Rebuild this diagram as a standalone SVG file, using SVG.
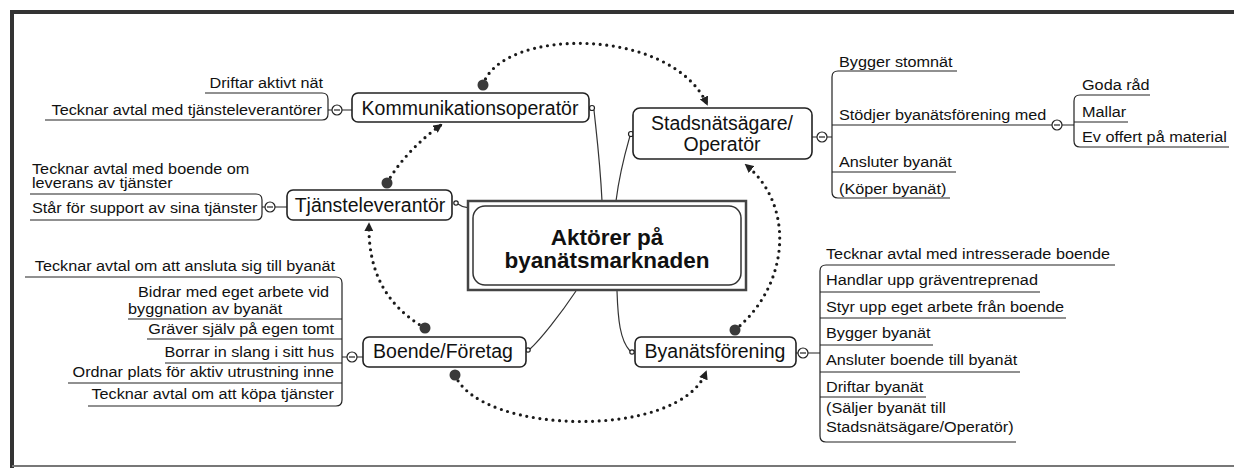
<svg xmlns="http://www.w3.org/2000/svg" width="1234" height="468" viewBox="0 0 1234 468">
<style>
.box{fill:#fff;stroke:#222;stroke-width:1.6}
.nt{font-family:"Liberation Sans",Arial,sans-serif;font-size:19.5px;fill:#111;text-anchor:middle}
.ctr{font-family:"Liberation Sans",Arial,sans-serif;font-size:22.5px;font-weight:bold;fill:#111;text-anchor:middle}
.ct{font-family:"Liberation Sans",Arial,sans-serif;font-size:14.5px;fill:#111}
.e{text-anchor:end}
.ln{stroke:#222;stroke-width:1.2;fill:none}
.dot{stroke:#1a1a1a;stroke-width:3.2;stroke-linecap:round;stroke-dasharray:0 6.6;fill:none}
.cn{stroke:#333;stroke-width:1.2;fill:none}
.col{fill:#fff;stroke:#222;stroke-width:1.2}
.st{fill:#3a3a3a}
</style>
<defs>
<marker id="arr" viewBox="0 0 10 10" refX="8" refY="5" markerWidth="9" markerHeight="9" markerUnits="userSpaceOnUse" orient="auto"><path d="M0,0 L10,5 L0,10 z" fill="#222"/></marker>
<symbol id="minus" viewBox="-6 -6 12 12" overflow="visible"><circle r="5" class="col"/><path d="M-3,0 H3" class="ln"/></symbol>
</defs>

<g id="frame">
<path d="M12,468 L12,12 L1234,12" fill="none" stroke="#333" stroke-width="4"/>
<path d="M12,466 L1234,466" fill="none" stroke="#777" stroke-width="2"/>
</g>

<g id="connectors">
<path class="cn" d="M602,201 C600,160 596,130 594,110"/>
<circle cx="592" cy="108" r="2.5" class="col"/>
<path class="cn" d="M616,201 C620,170 626,150 630,136"/>
<circle cx="631" cy="134" r="2.5" class="col"/>
<path class="cn" d="M474,206 Q466,210 458,204"/>
<circle cx="456" cy="203" r="2.2" class="col"/>
<path class="cn" d="M576,291 C560,315 540,340 530,349"/>
<circle cx="528" cy="350" r="2.2" class="col"/>
<path class="cn" d="M617,291 C618,320 620,340 630,351"/>
<circle cx="632" cy="352" r="2.2" class="col"/>
<path class="dot" d="M483,85 C500,28 670,25 707,104" marker-end="url(#arr)"/>
<path class="dot" d="M387,183 C400,160 420,140 441,125" marker-end="url(#arr)"/>
<path class="dot" d="M425,328 C385,305 368,270 369,224" marker-end="url(#arr)"/>
<path class="dot" d="M455,375 C480,435 680,440 706,372" marker-end="url(#arr)"/>
<path class="dot" d="M735,330 C790,285 795,205 746,165" marker-end="url(#arr)"/>
<circle class="st" cx="483" cy="85" r="5.5"/>
<circle class="st" cx="387" cy="183" r="5.5"/>
<circle class="st" cx="425" cy="328" r="5.5"/>
<circle class="st" cx="455" cy="375" r="5.5"/>
<circle class="st" cx="735" cy="330" r="5.5"/>
</g>

<g id="center">
<rect x="468" y="201" width="278" height="89" fill="#fff" stroke="#444" stroke-width="2.5"/>
<rect x="473" y="206" width="268" height="79" rx="12" fill="#fff" stroke="#333" stroke-width="1.5"/>
<text class="ctr" x="607" y="245">Aktörer på</text>
<text class="ctr" x="607" y="268">byanätsmarknaden</text>
</g>

<g id="kommunikationsoperator">
<rect class="box" x="352" y="93" width="237" height="29" rx="6"/>
<text class="nt" x="470" y="115">Kommunikationsoperatör</text>
<path class="ln" d="M322,93 Q328,93 328,99 L328,114 Q328,120 322,120 M328,110 H332 M342,110 H352"/>
<use href="#minus" x="331" y="104" width="12" height="12"/>
</g>
<g id="k-driftar"><path class="ln" d="M205,93 H322"/><text class="ct e" transform="translate(323,88) scale(1.12,1)">Driftar aktivt nät</text></g>
<g id="k-tecknar"><path class="ln" d="M45,120 H322"/><text class="ct e" transform="translate(322,115) scale(1.12,1)">Tecknar avtal med tjänsteleverantörer</text></g>

<g id="tjansteleverantor">
<rect class="box" x="287" y="190" width="165" height="30" rx="6"/>
<text class="nt" x="370" y="212">Tjänsteleverantör</text>
<path class="ln" d="M256,194 Q262,194 262,200 L262,214 Q262,220 256,220 M262,207 H265 M275,207 H287"/>
<use href="#minus" x="264" y="201" width="12" height="12"/>
</g>
<g id="t-tecknar"><path class="ln" d="M30,194 H256"/><text class="ct" transform="translate(32,174) scale(1.12,1)">Tecknar avtal med boende om</text><text class="ct" transform="translate(32,188) scale(1.12,1)">leverans av tjänster</text></g>
<g id="t-star"><path class="ln" d="M30,220 H256"/><text class="ct" transform="translate(32,213) scale(1.12,1)">Står för support av sina tjänster</text></g>

<g id="stadsnatsagare">
<rect class="box" x="633" y="108" width="179" height="51" rx="7"/>
<text class="nt" x="722" y="130">Stadsnätsägare/</text>
<text class="nt" x="722" y="151">Operatör</text>
<path class="ln" d="M838,71 Q832,71 832,77 L832,192 Q832,198 838,198 M812,137 H817 M827,137 H832"/>
<use href="#minus" x="816" y="131" width="12" height="12"/>
</g>
<g id="s-bygger"><path class="ln" d="M838,71 H957"/><text class="ct" transform="translate(839,67) scale(1.12,1)">Bygger stomnät</text></g>
<g id="s-stodjer"><path class="ln" d="M832,125 H1052 M1062,125 H1074 M1080,95 Q1074,95 1074,101 L1074,141 Q1074,147 1080,147"/><use href="#minus" x="1051" y="119" width="12" height="12"/><text class="ct" transform="translate(839,120) scale(1.12,1)">Stödjer byanätsförening med</text></g>
<g id="s-goda"><path class="ln" d="M1080,95 H1150"/><text class="ct" transform="translate(1082,90) scale(1.12,1)">Goda råd</text></g>
<g id="s-mallar"><path class="ln" d="M1074,122 H1128"/><text class="ct" transform="translate(1082,117) scale(1.12,1)">Mallar</text></g>
<g id="s-offert"><path class="ln" d="M1080,147 H1229"/><text class="ct" transform="translate(1082,142) scale(1.12,1)">Ev offert på material</text></g>
<g id="s-ansluter"><path class="ln" d="M832,172 H956"/><text class="ct" transform="translate(839,167) scale(1.12,1)">Ansluter byanät</text></g>
<g id="s-koper"><path class="ln" d="M838,198 H950"/><text class="ct" transform="translate(839,194) scale(1.12,1)">(Köper byanät)</text></g>

<g id="boende">
<rect class="box" x="363" y="337" width="163" height="30" rx="6"/>
<text class="nt" x="443" y="358">Boende/Företag</text>
<path class="ln" d="M336,277 Q342,277 342,283 L342,400 Q342,406 336,406 M342,357 H347 M357,357 H363"/>
<use href="#minus" x="346" y="351" width="12" height="12"/>
</g>
<g id="b-ansluta"><path class="ln" d="M25,277 H336"/><text class="ct e" transform="translate(335,271) scale(1.12,1)">Tecknar avtal om att ansluta sig till byanät</text></g>
<g id="b-bidrar"><path class="ln" d="M128,319 H342"/><text class="ct" transform="translate(138,297) scale(1.12,1)">Bidrar med eget arbete vid</text><text class="ct" transform="translate(128,314) scale(1.12,1)">byggnation av byanät</text></g>
<g id="b-graver"><path class="ln" d="M147,339 H342"/><text class="ct e" transform="translate(334,334) scale(1.12,1)">Gräver själv på egen tomt</text></g>
<g id="b-borrar"><path class="ln" d="M165,363 H342"/><text class="ct e" transform="translate(334,357) scale(1.12,1)">Borrar in slang i sitt hus</text></g>
<g id="b-ordnar"><path class="ln" d="M68,383 H342"/><text class="ct e" transform="translate(334,377) scale(1.12,1)">Ordnar plats för aktiv utrustning inne</text></g>
<g id="b-kopa"><path class="ln" d="M88,406 H336"/><text class="ct e" transform="translate(334,399) scale(1.12,1)">Tecknar avtal om att köpa tjänster</text></g>

<g id="byanatsforening">
<rect class="box" x="635" y="337" width="161" height="30" rx="6"/>
<text class="nt" x="715" y="358">Byanätsförening</text>
<path class="ln" d="M826,265 Q820,265 820,271 L820,436 Q820,442 826,442 M796,353 H798 M808,353 H820"/>
<use href="#minus" x="797" y="347" width="12" height="12"/>
</g>
<g id="f-tecknar"><path class="ln" d="M826,265 H1115"/><text class="ct" transform="translate(826,259) scale(1.12,1)">Tecknar avtal med intresserade boende</text></g>
<g id="f-handlar"><path class="ln" d="M820,292 H1040"/><text class="ct" transform="translate(826,285) scale(1.12,1)">Handlar upp gräventreprenad</text></g>
<g id="f-styr"><path class="ln" d="M820,318 H1066"/><text class="ct" transform="translate(826,312) scale(1.12,1)">Styr upp eget arbete från boende</text></g>
<g id="f-bygger"><path class="ln" d="M820,345 H933"/><text class="ct" transform="translate(826,338) scale(1.12,1)">Bygger byanät</text></g>
<g id="f-ansluter"><path class="ln" d="M820,372 H1020"/><text class="ct" transform="translate(826,365) scale(1.12,1)">Ansluter boende till byanät</text></g>
<g id="f-driftar"><path class="ln" d="M820,397 H926"/><text class="ct" transform="translate(826,392) scale(1.12,1)">Driftar byanät</text></g>
<g id="f-saljer"><path class="ln" d="M826,442 H1016"/><text class="ct" transform="translate(826,413) scale(1.12,1)">(Säljer byanät till</text><text class="ct" transform="translate(826,432) scale(1.12,1)">Stadsnätsägare/Operatör)</text></g>
</svg>
